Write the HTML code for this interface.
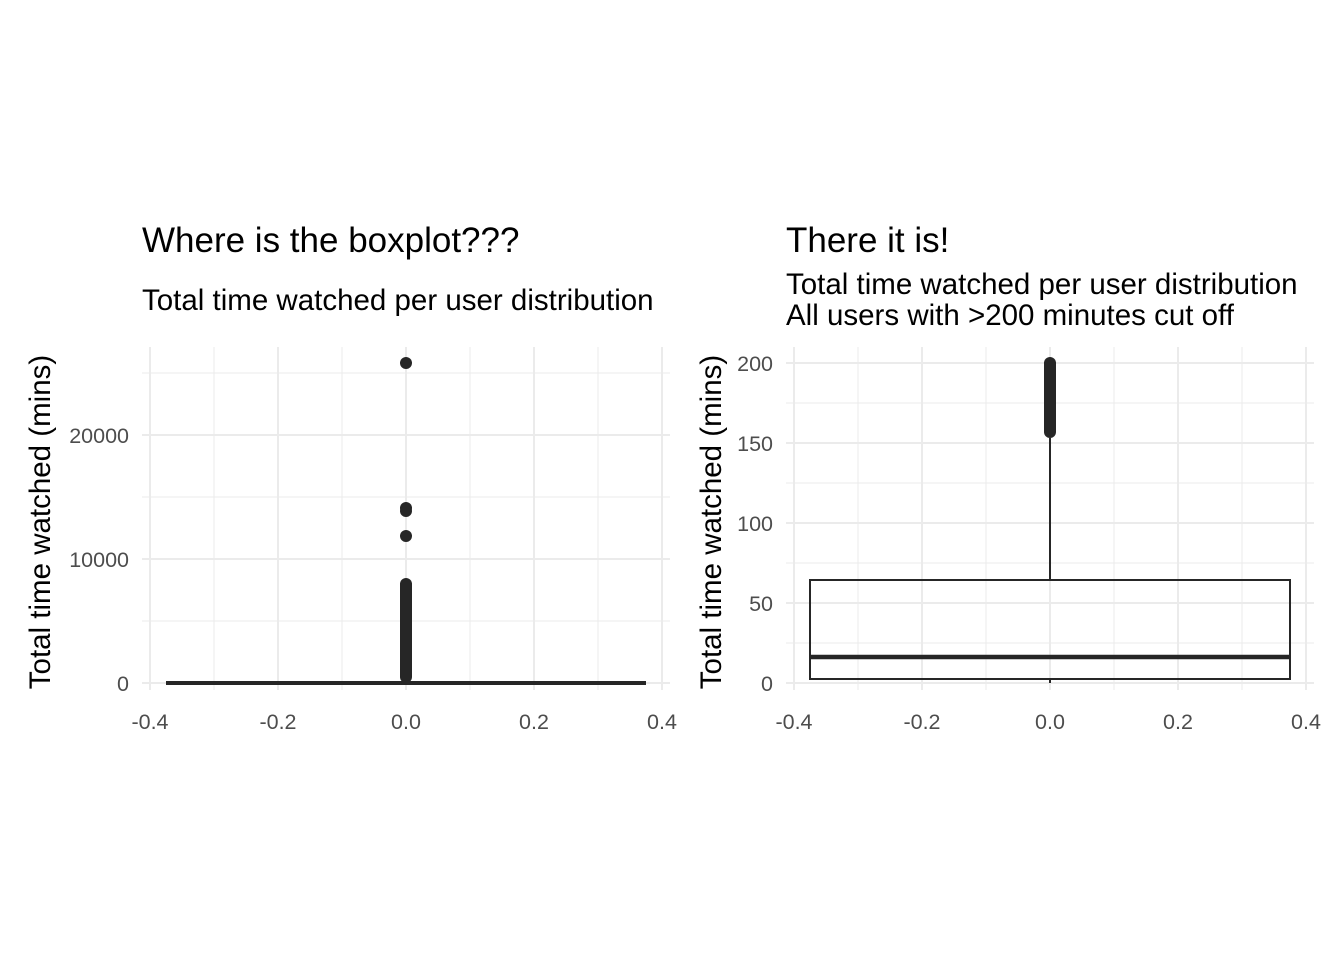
<!DOCTYPE html>
<html><head><style>body{margin:0;background:#fff}svg{display:block}</style></head><body>
<svg width="1344" height="960" xmlns="http://www.w3.org/2000/svg" font-family="Liberation Sans, sans-serif">
<rect width="1344" height="960" fill="#fff"/>
<g stroke="#ebebeb" stroke-width="1">
<line x1="142" x2="670" y1="621" y2="621"/><line x1="142" x2="670" y1="497" y2="497"/><line x1="142" x2="670" y1="373" y2="373"/>
<line x1="214" x2="214" y1="347" y2="690"/><line x1="342" x2="342" y1="347" y2="690"/><line x1="470" x2="470" y1="347" y2="690"/><line x1="598" x2="598" y1="347" y2="690"/>
<line x1="786" x2="1314" y1="643" y2="643"/><line x1="786" x2="1314" y1="563" y2="563"/><line x1="786" x2="1314" y1="483" y2="483"/><line x1="786" x2="1314" y1="403" y2="403"/>
<line x1="858" x2="858" y1="347" y2="690"/><line x1="986" x2="986" y1="347" y2="690"/><line x1="1114" x2="1114" y1="347" y2="690"/><line x1="1242" x2="1242" y1="347" y2="690"/>
</g>
<g stroke="#ebebeb" stroke-width="2">
<line x1="142" x2="670" y1="683" y2="683"/><line x1="142" x2="670" y1="559" y2="559"/><line x1="142" x2="670" y1="435" y2="435"/>
<line x1="150" x2="150" y1="347" y2="690"/><line x1="278" x2="278" y1="347" y2="690"/><line x1="406" x2="406" y1="347" y2="690"/><line x1="534" x2="534" y1="347" y2="690"/><line x1="662" x2="662" y1="347" y2="690"/>
<line x1="786" x2="1314" y1="683" y2="683"/><line x1="786" x2="1314" y1="603" y2="603"/><line x1="786" x2="1314" y1="523" y2="523"/><line x1="786" x2="1314" y1="443" y2="443"/><line x1="786" x2="1314" y1="363" y2="363"/>
<line x1="794" x2="794" y1="347" y2="690"/><line x1="922" x2="922" y1="347" y2="690"/><line x1="1050" x2="1050" y1="347" y2="690"/><line x1="1178" x2="1178" y1="347" y2="690"/><line x1="1306" x2="1306" y1="347" y2="690"/>
</g>
<g fill="#262626">
<circle cx="406" cy="363" r="6"/><circle cx="406" cy="508" r="6"/><circle cx="406" cy="511" r="6"/><circle cx="406" cy="536" r="6"/>
<rect x="400" y="578" width="12" height="105" rx="6"/>
</g>
<line x1="166" x2="646" y1="683" y2="683" stroke="#262626" stroke-width="4"/>
<rect x="1044" y="357" width="12" height="81" rx="6" fill="#262626"/>
<line x1="1050" x2="1050" y1="438" y2="580" stroke="#262626" stroke-width="2"/>
<line x1="1050" x2="1050" y1="679" y2="683" stroke="#262626" stroke-width="2"/>
<rect x="810" y="580" width="480" height="99" fill="none" stroke="#262626" stroke-width="2"/>
<line x1="810" x2="1290" y1="657" y2="657" stroke="#262626" stroke-width="4.5"/>
<g fill="#4d4d4d" font-size="21.5">
<g text-anchor="end"><text x="129" y="691">0</text><text x="129" y="567">10000</text><text x="129" y="443">20000</text>
<text x="773" y="691">0</text><text x="773" y="611">50</text><text x="773" y="531">100</text><text x="773" y="451">150</text><text x="773" y="371">200</text></g>
<g text-anchor="middle"><text x="150" y="729">-0.4</text><text x="278" y="729">-0.2</text><text x="406" y="729">0.0</text><text x="534" y="729">0.2</text><text x="662" y="729">0.4</text>
<text x="794" y="729">-0.4</text><text x="922" y="729">-0.2</text><text x="1050" y="729">0.0</text><text x="1178" y="729">0.2</text><text x="1306" y="729">0.4</text></g>
</g>
<g fill="#000" font-size="29.5" text-anchor="middle">
<text transform="translate(50,522) rotate(-90)">Total time watched (mins)</text>
<text transform="translate(721,522) rotate(-90)">Total time watched (mins)</text>
</g>
<g fill="#000">
<text x="142" y="252" font-size="35">Where is the boxplot???</text>
<text x="142" y="310" font-size="29.5">Total time watched per user distribution</text>
<text x="786" y="252" font-size="35">There it is!</text>
<text x="786" y="294" font-size="29.5">Total time watched per user distribution</text>
<text x="786" y="325" font-size="29.5">All users with &gt;200 minutes cut off</text>
</g>
</svg>
</body></html>
